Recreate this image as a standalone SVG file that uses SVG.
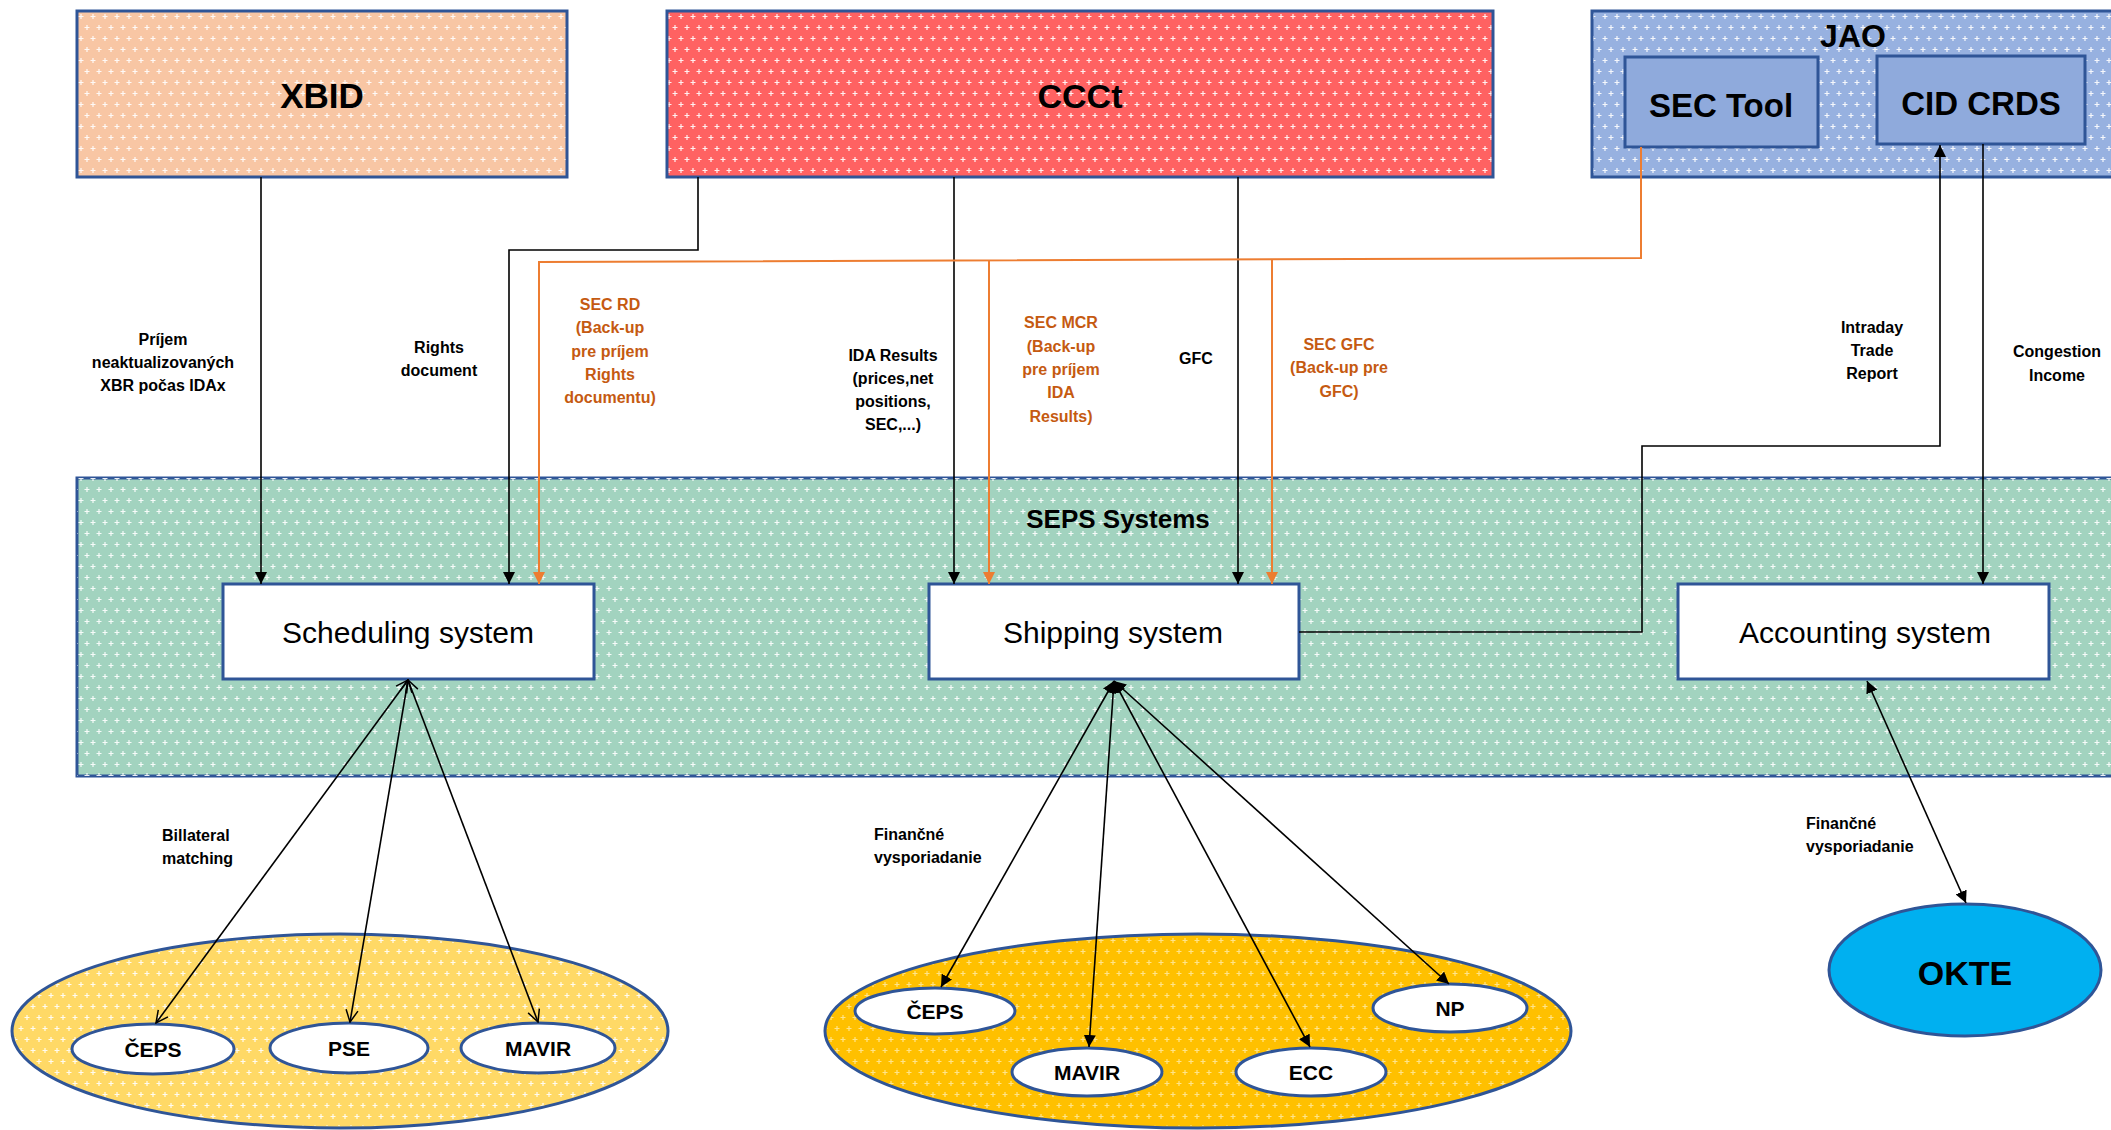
<svg xmlns="http://www.w3.org/2000/svg" width="2111" height="1130" viewBox="0 0 2111 1130">
<style>
.box{stroke:#2F5597;stroke-width:3}
.inner{fill:#8FAADC;stroke:#2F5597;stroke-width:3}
.sysbox{fill:#ffffff;stroke:#2F5597;stroke-width:3}
.small{fill:#ffffff;stroke:#2F5597;stroke-width:3}
.title{font-family:"Liberation Sans",Arial,sans-serif;font-weight:bold;font-size:35px;fill:#000;text-anchor:middle}
.sys{font-family:"Liberation Sans",Arial,sans-serif;font-size:30px;fill:#000;text-anchor:middle}
.lbl{font-family:"Liberation Sans",Arial,sans-serif;font-weight:bold;font-size:16px;fill:#000;text-anchor:middle}
.lbll{font-family:"Liberation Sans",Arial,sans-serif;font-weight:bold;font-size:16px;fill:#000}
.or{fill:#C55A11}
.el{font-family:"Liberation Sans",Arial,sans-serif;font-weight:bold;font-size:21px;fill:#000;text-anchor:middle}
.conn{fill:none;stroke:#000;stroke-width:1.6}
.oconn{fill:none;stroke:#ED7D31;stroke-width:2}
</style>
<defs>
<pattern id="dots" width="12" height="22" patternUnits="userSpaceOnUse">
<path d="M3,3 v5 M0.5,5.5 h5 M9,14 v5 M6.5,16.5 h5" stroke="#ffffff" stroke-width="1.2" opacity="0.9"/>
</pattern>
<pattern id="dotsY" width="12" height="22" patternUnits="userSpaceOnUse">
<path d="M3,3 v5 M0.5,5.5 h5 M9,14 v5 M6.5,16.5 h5" stroke="#FFE48A" stroke-width="1.2"/>
</pattern>
<marker id="af" viewBox="0 0 12 12" markerWidth="12" markerHeight="12" refX="12" refY="6" orient="auto-start-reverse" markerUnits="userSpaceOnUse">
<path d="M0,0 L12,6 L0,12 z" fill="#000"/>
</marker>
<marker id="ao" viewBox="0 0 12 12" markerWidth="12" markerHeight="12" refX="12" refY="6" orient="auto-start-reverse" markerUnits="userSpaceOnUse">
<path d="M0,0 L12,6 L0,12 z" fill="#ED7D31"/>
</marker>
<marker id="av" viewBox="0 0 14 14" markerWidth="14" markerHeight="14" refX="13" refY="7" orient="auto-start-reverse" markerUnits="userSpaceOnUse">
<path d="M1,1 L13,7 L1,13" fill="none" stroke="#000" stroke-width="1.5"/>
</marker>
</defs>
<rect x="0" y="0" width="2111" height="1130" fill="#ffffff"/>

<g id="seps">
<rect x="77" y="478" width="2050" height="298" fill="#A2D3BF" class="box"/>
<rect x="77" y="478" width="2050" height="298" fill="url(#dots)"/>
<text x="1118" y="528" class="title" style="font-size:26px">SEPS Systems</text>
</g>

<g id="xbid">
<rect x="77" y="11" width="490" height="166" fill="#F8C6A4" class="box"/>
<rect x="78.5" y="12.5" width="487" height="163" fill="url(#dots)"/>
<text x="322" y="108" class="title">XBID</text>
</g>

<g id="ccct">
<rect x="667" y="11" width="826" height="166" fill="#FF6262" class="box"/>
<rect x="668.5" y="12.5" width="823" height="163" fill="url(#dots)"/>
<text x="1080" y="108" class="title" style="font-size:34px">CCCt</text>
</g>

<g id="jao">
<rect x="1592" y="11" width="540" height="166" fill="#97B1E0" class="box"/>
<rect x="1593.5" y="12.5" width="540" height="163" fill="url(#dots)"/>
<text x="1853" y="47" class="title" style="font-size:32px">JAO</text>
</g>

<g id="sec-tool">
<rect x="1625" y="57" width="193" height="90" class="inner"/>
<text x="1721" y="117" class="title" style="font-size:33px">SEC Tool</text>
</g>

<g id="cid-crds">
<rect x="1877" y="56" width="208" height="88" class="inner"/>
<text x="1981" y="115" class="title" style="font-size:33px">CID CRDS</text>
</g>

<g id="scheduling">
<rect x="223" y="584" width="371" height="95" class="sysbox"/>
<text x="408" y="643" class="sys">Scheduling system</text>
</g>

<g id="shipping">
<rect x="929" y="584" width="370" height="95" class="sysbox"/>
<text x="1113" y="643" class="sys">Shipping system</text>
</g>

<g id="accounting">
<rect x="1678" y="584" width="371" height="95" class="sysbox"/>
<text x="1865" y="643" class="sys">Accounting system</text>
</g>

<g id="group-left">
<ellipse cx="340" cy="1031" rx="328" ry="97" fill="#FFD966" class="box"/>
<ellipse cx="340" cy="1031" rx="326" ry="95" fill="url(#dots)"/>
</g>
<g id="ceps1">
<ellipse cx="153" cy="1049" rx="81" ry="25" class="small"/>
<text x="153" y="1057" class="el">ČEPS</text>
</g>
<g id="pse">
<ellipse cx="349" cy="1048" rx="79" ry="25" class="small"/>
<text x="349" y="1056" class="el">PSE</text>
</g>
<g id="mavir1">
<ellipse cx="538" cy="1048" rx="77" ry="25" class="small"/>
<text x="538" y="1056" class="el">MAVIR</text>
</g>

<g id="group-right">
<ellipse cx="1198" cy="1031" rx="373" ry="97" fill="#FFC000" class="box"/>
<ellipse cx="1198" cy="1031" rx="371" ry="95" fill="url(#dotsY)"/>
</g>
<g id="ceps2">
<ellipse cx="935" cy="1011" rx="80" ry="23" class="small"/>
<text x="935" y="1019" class="el">ČEPS</text>
</g>
<g id="mavir2">
<ellipse cx="1087" cy="1072" rx="75" ry="24" class="small"/>
<text x="1087" y="1080" class="el">MAVIR</text>
</g>
<g id="ecc">
<ellipse cx="1311" cy="1072" rx="75" ry="24" class="small"/>
<text x="1311" y="1080" class="el">ECC</text>
</g>
<g id="np">
<ellipse cx="1450" cy="1008" rx="77" ry="24" class="small"/>
<text x="1450" y="1016" class="el">NP</text>
</g>

<g id="okte">
<ellipse cx="1965" cy="970" rx="136" ry="66" fill="#00B0F0" class="box"/>
<text x="1965" y="985" class="title" style="font-size:34px">OKTE</text>
</g>

<g id="connectors">
<path d="M261,177 V584" class="conn" marker-end="url(#af)"/>
<path d="M698,177 V250 H509 V584" class="conn" marker-end="url(#af)"/>
<path d="M954,177 V584" class="conn" marker-end="url(#af)"/>
<path d="M1238,177 V584" class="conn" marker-end="url(#af)"/>
<path d="M1641,147 V258 L539,262 V584" class="oconn" marker-end="url(#ao)"/>
<path d="M989,260 V584" class="oconn" marker-end="url(#ao)"/>
<path d="M1272,259 V584" class="oconn" marker-end="url(#ao)"/>
<path d="M1299,632 H1642 V446 H1940 V145" class="conn" marker-end="url(#af)"/>
<path d="M1983,144 V584" class="conn" marker-end="url(#af)"/>
<path d="M408,680 L156,1023" class="conn" marker-start="url(#av)" marker-end="url(#av)"/>
<path d="M408,680 L350,1022" class="conn" marker-start="url(#av)" marker-end="url(#av)"/>
<path d="M408,680 L538,1022" class="conn" marker-start="url(#av)" marker-end="url(#av)"/>
<path d="M1114,681 L941,987" class="conn" marker-start="url(#af)" marker-end="url(#af)"/>
<path d="M1114,681 L1089,1047" class="conn" marker-start="url(#af)" marker-end="url(#af)"/>
<path d="M1114,681 L1310,1047" class="conn" marker-start="url(#af)" marker-end="url(#af)"/>
<path d="M1114,681 L1449,984" class="conn" marker-start="url(#af)" marker-end="url(#af)"/>
<path d="M1867,681 L1966,903" class="conn" marker-start="url(#af)" marker-end="url(#af)"/>
</g>

<g id="labels">
<text class="lbl"><tspan x="163" y="345">Príjem</tspan><tspan x="163" y="368">neaktualizovaných</tspan><tspan x="163" y="391">XBR počas IDAx</tspan></text>
<text class="lbl"><tspan x="439" y="353">Rights</tspan><tspan x="439" y="376">document</tspan></text>
<text class="lbl or"><tspan x="610" y="310">SEC RD</tspan><tspan x="610" y="333">(Back-up</tspan><tspan x="610" y="357">pre príjem</tspan><tspan x="610" y="380">Rights</tspan><tspan x="610" y="403">documentu)</tspan></text>
<text class="lbl"><tspan x="893" y="361">IDA Results</tspan><tspan x="893" y="384">(prices,net</tspan><tspan x="893" y="407">positions,</tspan><tspan x="893" y="430">SEC,...)</tspan></text>
<text class="lbl or"><tspan x="1061" y="328">SEC MCR</tspan><tspan x="1061" y="352">(Back-up</tspan><tspan x="1061" y="375">pre príjem</tspan><tspan x="1061" y="398">IDA</tspan><tspan x="1061" y="422">Results)</tspan></text>
<text class="lbl" x="1196" y="364">GFC</text>
<text class="lbl or"><tspan x="1339" y="350">SEC GFC</tspan><tspan x="1339" y="373">(Back-up pre</tspan><tspan x="1339" y="397">GFC)</tspan></text>
<text class="lbl"><tspan x="1872" y="333">Intraday</tspan><tspan x="1872" y="356">Trade</tspan><tspan x="1872" y="379">Report</tspan></text>
<text class="lbl"><tspan x="2057" y="357">Congestion</tspan><tspan x="2057" y="381">Income</tspan></text>
<text class="lbll"><tspan x="162" y="841">Billateral</tspan><tspan x="162" y="864">matching</tspan></text>
<text class="lbll"><tspan x="874" y="840">Finančné</tspan><tspan x="874" y="863">vysporiadanie</tspan></text>
<text class="lbll"><tspan x="1806" y="829">Finančné</tspan><tspan x="1806" y="852">vysporiadanie</tspan></text>
</g>
</svg>
